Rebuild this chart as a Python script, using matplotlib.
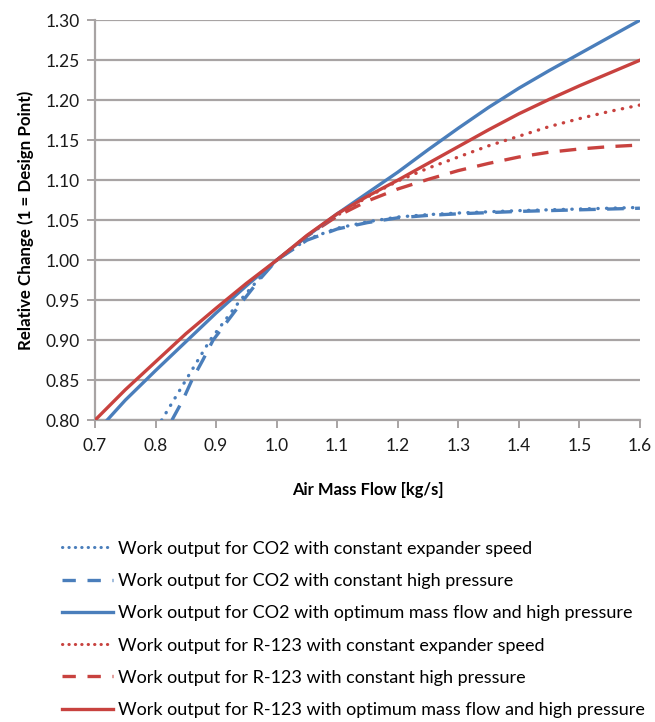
import matplotlib
matplotlib.use("Agg")
import matplotlib.pyplot as plt
from matplotlib.lines import Line2D

plt.rcParams['font.family'] = ['Lato', 'DejaVu Sans']

# Data
co2_speed_x = [0.81, 0.83, 0.85, 0.87, 0.89, 0.915, 0.94, 0.97, 1.0, 1.05, 1.1, 1.15, 1.2, 1.25, 1.3, 1.4, 1.5, 1.6]
co2_speed_y = [0.80, 0.825, 0.85, 0.875, 0.90, 0.925, 0.95, 0.976, 1.0, 1.026, 1.040, 1.048, 1.054, 1.057, 1.059, 1.062, 1.064, 1.066]

co2_press_x = [0.827, 0.845, 0.86, 0.878, 0.895, 0.92, 0.945, 0.972, 1.0, 1.05, 1.1, 1.15, 1.2, 1.25, 1.3, 1.4, 1.5, 1.6]
co2_press_y = [0.80, 0.825, 0.85, 0.875, 0.90, 0.925, 0.95, 0.976, 1.0, 1.025, 1.039, 1.047, 1.053, 1.056, 1.058, 1.061, 1.063, 1.065]

co2_opt_x = [0.72, 0.75, 0.8, 0.85, 0.9, 0.95, 1.0, 1.05, 1.1, 1.15, 1.2, 1.25, 1.3, 1.35, 1.4, 1.45, 1.5, 1.55, 1.6]
co2_opt_y = [0.80, 0.825, 0.862, 0.898, 0.934, 0.968, 1.0, 1.030, 1.058, 1.084, 1.110, 1.138, 1.165, 1.191, 1.215, 1.237, 1.258, 1.279, 1.30]

r123_speed_x = [1.0, 1.05, 1.1, 1.15, 1.2, 1.25, 1.3, 1.35, 1.4, 1.45, 1.5, 1.55, 1.6]
r123_speed_y = [1.0, 1.030, 1.056, 1.079, 1.099, 1.115, 1.129, 1.143, 1.155, 1.167, 1.177, 1.186, 1.194]

r123_press_x = [1.0, 1.05, 1.1, 1.15, 1.2, 1.25, 1.3, 1.35, 1.4, 1.45, 1.5, 1.55, 1.6]
r123_press_y = [1.0, 1.030, 1.055, 1.074, 1.089, 1.101, 1.112, 1.121, 1.129, 1.135, 1.139, 1.142, 1.144]

r123_opt_x = [0.70, 0.75, 0.8, 0.85, 0.9, 0.95, 1.0, 1.05, 1.1, 1.15, 1.2, 1.25, 1.3, 1.35, 1.4, 1.45, 1.5, 1.55, 1.6]
r123_opt_y = [0.80, 0.838, 0.873, 0.908, 0.940, 0.971, 1.0, 1.031, 1.058, 1.080, 1.100, 1.121, 1.142, 1.163, 1.183, 1.201, 1.218, 1.234, 1.25]

labels = [
    "Work output for CO2 with constant expander speed",
    "Work output for CO2 with constant high pressure",
    "Work output for CO2 with optimum mass flow and high pressure",
    "Work output for R-123 with constant expander speed",
    "Work output for R-123 with constant high pressure",
    "Work output for R-123 with optimum mass flow and high pressure",
]

x_ticks = [0.7, 0.8, 0.9, 1.0, 1.1, 1.2, 1.3, 1.4, 1.5, 1.6]
y_ticks = [0.80, 0.85, 0.90, 0.95, 1.00, 1.05, 1.10, 1.15, 1.20, 1.25, 1.30]

BLUE = '#4a7ebb'
RED = '#c8423f'
GRID = '#a8a4a4'

fig = plt.figure(figsize=(6.55, 7.22), dpi=100)
ax = fig.add_axes([0.145, 0.418, 0.832, 0.554])

lw = 2.4
dot = (0, (0.1, 2.5))
dash = (0, (5.0, 3.4))
ax.plot(co2_press_x, co2_press_y, color=BLUE, lw=lw, ls=dash, zorder=3)
ax.plot(co2_speed_x, co2_speed_y, color=BLUE, lw=lw, ls=dot, dash_capstyle='round', zorder=3)
ax.plot(co2_opt_x, co2_opt_y, color=BLUE, lw=lw, zorder=4)
ax.plot(r123_press_x, r123_press_y, color=RED, lw=lw, ls=dash, zorder=3)
ax.plot(r123_speed_x, r123_speed_y, color=RED, lw=lw, ls=dot, dash_capstyle='round', zorder=3)
ax.plot(r123_opt_x, r123_opt_y, color=RED, lw=lw, zorder=4)

ax.set_xlim(0.7, 1.6)
ax.set_ylim(0.80, 1.30)
ax.set_xticks(x_ticks)
ax.set_xticklabels([f"{v:.1f}" for v in x_ticks])
ax.set_yticks(y_ticks)
ax.set_yticklabels([f"{v:.2f}" for v in y_ticks])
ax.yaxis.grid(True, color=GRID, lw=1.6)
ax.set_axisbelow(True)
for s in ['top', 'right']:
    ax.spines[s].set_visible(False)
for s in ['left', 'bottom']:
    ax.spines[s].set_color(GRID)
    ax.spines[s].set_linewidth(1.6)
ax.tick_params(axis='both', colors=GRID, width=1.4, length=6, labelsize=12.5,
               labelcolor='#1a1a1a', pad=5)
ax.tick_params(axis='x', pad=7)

ax.set_xlabel("Air Mass Flow [kg/s]", fontsize=11.9, fontweight='bold', labelpad=20)
ax.set_ylabel("Relative Change (1 = Design Point)", fontsize=12.2, fontweight='bold', labelpad=8)

handles = [
    Line2D([], [], color=BLUE, lw=2.2, ls=(0, (0.1, 2.0)), dash_capstyle='round'),
    Line2D([], [], color=BLUE, lw=2.4, ls=(0, (4, 3.5))),
    Line2D([], [], color=BLUE, lw=2.4),
    Line2D([], [], color=RED, lw=2.2, ls=(0, (0.1, 2.0)), dash_capstyle='round'),
    Line2D([], [], color=RED, lw=2.4, ls=(0, (4, 3.5))),
    Line2D([], [], color=RED, lw=2.4),
]
fig.legend(handles, labels, loc='upper left', bbox_to_anchor=(0.084, 0.261),
           frameon=False, fontsize=13, handlelength=2.8, handletextpad=0.3,
           labelspacing=0.9, borderaxespad=0)

fig.savefig("out.png", dpi=100, facecolor='white')
